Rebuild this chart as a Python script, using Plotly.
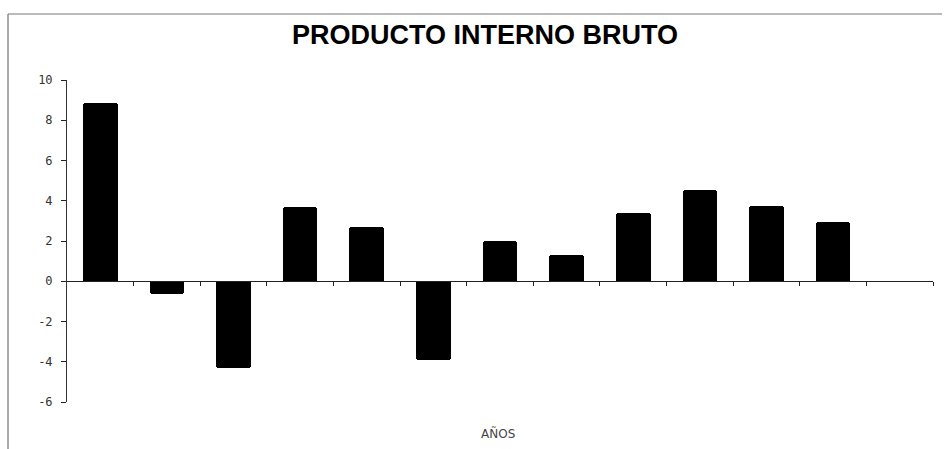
import plotly.graph_objects as go

# Data
slots = list(range(13))               # 13 year slots on the x axis; last one empty
bar_pos = list(range(12))
pib = [8.85, -0.65, -4.3, 3.7, 2.7, -3.9, 2.0, 1.3, 3.4, 4.55, 3.75, 2.95]
y_ticks = [10, 8, 6, 4, 2, 0, -2, -4, -6]
y_tick_text = ["10", "8", "6", "4", "2", "0", "-2", "-4", "-6"]
x_tick_pos = [s + 0.5 for s in slots]

W, H = 946, 449
L, R, T, B = 67, 13, 80, 47

fig = go.Figure()
fig.add_trace(go.Bar(
    x=bar_pos, y=pib, width=0.52,
    marker=dict(color="#000000", line=dict(width=0), cornerradius=3),
    hoverinfo="x+y",
))

pw = W - L - R
ph = H - T - B
def px(x):
    return (x - L) / pw
def py(y):
    return (H - B - y) / ph

fig.update_layout(
    width=W, height=H,
    margin=dict(l=L, r=R, t=T, b=B),
    paper_bgcolor="white", plot_bgcolor="white",
    showlegend=False,
    bargap=0,
    title=dict(text="<b>PRODUCTO INTERNO BRUTO</b>", x=485 / W, xanchor="center",
               y=1 - 35 / H, yanchor="middle",
               font=dict(family="Liberation Sans, Arial", size=27, color="#000")),
    xaxis=dict(range=[-0.5, 12.5], anchor="free", position=6 / 16,
               showline=True, linecolor="#222", linewidth=1.2,
               tickmode="array", tickvals=x_tick_pos, ticks="outside",
               ticklen=4, tickcolor="#222", showticklabels=False,
               showgrid=False, zeroline=False),
    yaxis=dict(range=[-6, 10], tickmode="array", tickvals=y_ticks,
               ticktext=y_tick_text, showline=True, linecolor="#333",
               linewidth=1, ticks="outside", ticklen=5, tickcolor="#222",
               ticklabelstandoff=6, automargin=False,
               tickfont=dict(family="DejaVu Sans Mono", size=12, color="#333"),
               showgrid=False, zeroline=False),
    annotations=[dict(text="AÑOS", xref="paper", yref="paper",
                      x=px(498), y=py(433), xanchor="center", yanchor="middle",
                      showarrow=False,
                      font=dict(family="DejaVu Sans", size=12, color="#444"))],
    shapes=[
        dict(type="line", xref="paper", yref="paper", x0=px(8), x1=px(8),
             y0=py(14), y1=py(449), line=dict(color="#555", width=1)),
        dict(type="line", xref="paper", yref="paper", x0=px(8), x1=px(942),
             y0=py(14), y1=py(14), line=dict(color="#777", width=1)),
    ],
)

fig.write_html("out.html", config={"displayModeBar": False})

# remove the browser's default body margin so the figure sits at (0, 0)
with open("out.html", "r", encoding="utf-8") as f:
    html = f.read()
html = html.replace("<body>", '<body style="margin:0;padding:0;overflow:hidden">', 1)
with open("out.html", "w", encoding="utf-8") as f:
    f.write(html)
